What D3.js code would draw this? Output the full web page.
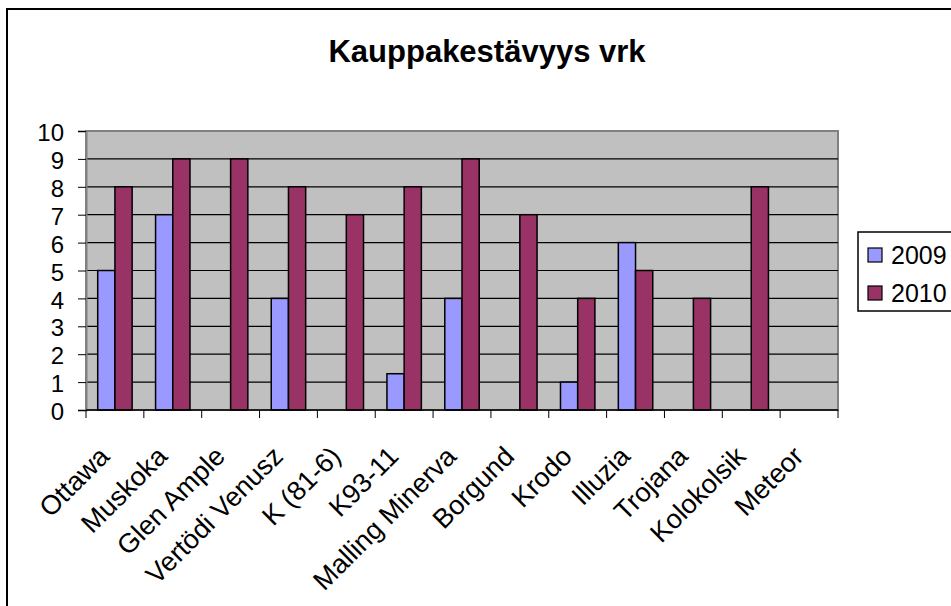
<!DOCTYPE html>
<html>
<head>
<meta charset="utf-8">
<script src="https://cdn.jsdelivr.net/npm/d3@7"></script>
<style>
  body { margin: 0; background: #ffffff; }
  svg { display: block; font-family: "Liberation Sans", Arial, sans-serif; }
</style>
</head>
<body>
<svg id="chart"></svg>
<script>
// Chart data
const categories = ["Ottawa", "Muskoka", "Glen Ample", "Vertödi Venusz", "K (81-6)", "K93-11",
  "Malling Minerva", "Borgund", "Krodo", "Illuzia", "Trojana", "Kolokolsik", "Meteor"];
const seriesNames = ["2009", "2010"];
const values2009 = [5, 7, null, 4, null, 1.3, 4, null, 1, 6, null, null, null];
const values2010 = [8, 9, 9, 8, 7, 8, 9, 7, 4, 5, 4, 8, null];
const yTicks = [0, 1, 2, 3, 4, 5, 6, 7, 8, 9, 10];
const chartTitle = "Kauppakestävyys vrk";

const colors = {"2009": "#9999ff", "2010": "#993366"};

//Overall size of the picture
const W = 951, H = 606;
//Plot area edges
const plot = {left: 86, right: 838, top: 131, bottom: 410};

const svg = d3.select("#chart")
    .attr("width", W)
    .attr("height", H);

//Chart area border, right and bottom edges run off the picture
svg.append("rect")
    .attr("x", 7).attr("y", 9)
    .attr("width", 980).attr("height", 640)
    .attr("fill", "#ffffff")
    .attr("stroke", "#000000")
    .attr("stroke-width", 2);

//Title
svg.append("text")
    .attr("x", 487).attr("y", 62)
    .attr("text-anchor", "middle")
    .attr("font-size", 31)
    .attr("font-weight", "bold")
    .text(chartTitle);

//Scales
const xScale = d3.scaleBand().domain(categories).range([plot.left, plot.right]);
const bw = xScale.bandwidth();
const groupW = bw * 0.595;
const x1 = d3.scaleBand().domain(seriesNames).range([(bw - groupW) / 2, (bw + groupW) / 2]);
const yScale = d3.scaleLinear().domain([0, 10]).range([plot.bottom, plot.top]);

//Grey plot background
svg.append("rect")
    .attr("x", plot.left).attr("y", plot.top)
    .attr("width", plot.right - plot.left).attr("height", plot.bottom - plot.top)
    .attr("fill", "#c0c0c0")
    .attr("stroke", "#808080")
    .attr("stroke-width", 2);

//Horizontal gridlines
svg.selectAll(".yGrid")
    .data(yTicks.slice(1, -1))
    .join("line")
    .attr("class", "yGrid")
    .attr("x1", plot.left).attr("x2", plot.right)
    .attr("y1", d => yScale(d)).attr("y2", d => yScale(d))
    .attr("stroke", "#000000")
    .attr("stroke-width", 1.2);

//Y axis
const yAxis = svg.append("g")
    .attr("transform", "translate(" + plot.left + ",0)")
    .call(d3.axisLeft(yScale).tickValues(yTicks).tickSize(8).tickPadding(14));
yAxis.select(".domain").attr("stroke", "#808080").attr("stroke-width", 2);
yAxis.selectAll(".tick line").attr("stroke", "#000000");
yAxis.selectAll(".tick text")
    .attr("font-size", 24)
    .attr("font-family", "Liberation Sans, Arial, sans-serif")
    .attr("fill", "#000000")
    .attr("dy", "0.4em");

//Bars
const barData = [];
categories.forEach((c, i) => {
    [values2009[i], values2010[i]].forEach((v, s) => {
        if (v !== null) barData.push({cat: c, series: seriesNames[s], value: v});
    });
});

svg.selectAll(".bar")
    .data(barData)
    .join("rect")
    .attr("class", "bar")
    .attr("x", d => xScale(d.cat) + x1(d.series))
    .attr("y", d => yScale(d.value))
    .attr("width", x1.bandwidth())
    .attr("height", d => plot.bottom - yScale(d.value))
    .attr("fill", d => colors[d.series])
    .attr("stroke", "#000000")
    .attr("stroke-width", 1.5);

//X axis line and tick marks at the category boundaries
svg.append("line")
    .attr("x1", plot.left).attr("x2", plot.right)
    .attr("y1", plot.bottom).attr("y2", plot.bottom)
    .attr("stroke", "#000000")
    .attr("stroke-width", 1.5);

const boundaries = categories.map(c => xScale(c)).concat([plot.right]);
svg.selectAll(".xTick")
    .data(boundaries)
    .join("line")
    .attr("class", "xTick")
    .attr("x1", d => d).attr("x2", d => d)
    .attr("y1", plot.bottom).attr("y2", plot.bottom + 8)
    .attr("stroke", "#000000");

//Rotated category labels
svg.selectAll(".xLabel")
    .data(categories)
    .join("text")
    .attr("class", "xLabel")
    .attr("text-anchor", "end")
    .attr("font-size", 27)
    .attr("transform", d => "translate(" + (xScale(d) + bw / 2 - 4) + "," + 458 + ") rotate(-45)")
    .text(d => d);

//Legend
const legend = svg.append("g");
legend.append("rect")
    .attr("x", 858).attr("y", 232)
    .attr("width", 140).attr("height", 79)
    .attr("fill", "#ffffff")
    .attr("stroke", "#000000")
    .attr("stroke-width", 1.5);

seriesNames.forEach((s, i) => {
    const cy = 255 + i * 38;
    legend.append("rect")
        .attr("x", 868).attr("y", cy - 7)
        .attr("width", 14).attr("height", 14)
        .attr("fill", colors[s])
        .attr("stroke", "#000000")
        .attr("stroke-width", 1.2);
    legend.append("text")
        .attr("x", 891).attr("y", cy)
        .attr("dy", "0.36em")
        .attr("font-size", 25)
        .text(s);
});
</script>
</body>
</html>
